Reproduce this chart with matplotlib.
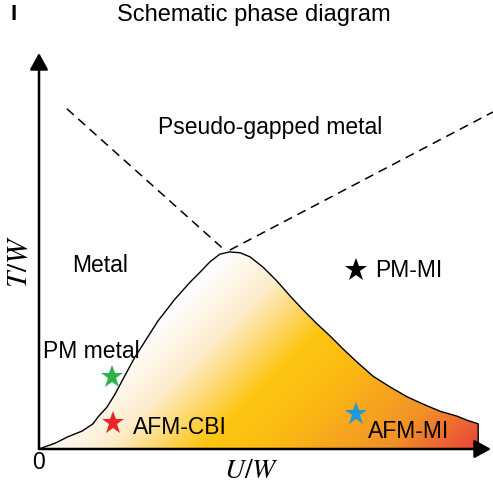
#!/usr/bin/env python3
# -*- coding: utf-8 -*-
import numpy as np
import matplotlib.pyplot as plt
from matplotlib.colors import LinearSegmentedColormap
from matplotlib.patches import Polygon

# =============== DADOS (unidades esquemáticas U/W, T/W) ===============
# contorno da região ordenada (domo)
dome_u = [0.00, 0.36, 0.64, 0.96, 1.20, 1.31, 1.51, 1.69, 1.87, 2.13, 2.36, 2.64,
          3.02, 3.36, 3.58, 3.80, 4.02, 4.24, 4.47, 4.69, 4.98, 5.29, 5.58, 5.87,
          6.18, 6.47, 6.76, 7.07, 7.42, 7.80, 8.18, 8.53, 8.91, 9.29, 9.51, 9.76,
          9.76]
dome_t = [0.00, 0.13, 0.27, 0.40, 0.56, 0.71, 0.93, 1.22, 1.56, 2.04, 2.40, 2.84,
          3.33, 3.71, 3.93, 4.16, 4.33, 4.38, 4.36, 4.27, 4.04, 3.73, 3.40, 3.09,
          2.78, 2.51, 2.22, 1.93, 1.62, 1.38, 1.16, 1.00, 0.84, 0.73, 0.64, 0.56,
          0.00]

# linhas tracejadas (crossover)
dash_left_u = [0.62, 4.07]
dash_left_t = [7.56, 4.47]
dash_right_u = [4.24, 10.09]
dash_right_t = [4.42, 7.49]

# estrelas
star_u = [1.62, 1.64, 7.04, 7.04]
star_t = [1.60, 0.58, 3.98, 0.78]
star_colors = ["#2db34a", "#e8262a", "#000000", "#1e9ad6"]

# rótulos das fases
labels = ["Metal", "PM metal", "AFM-CBI", "PM-MI", "AFM-MI", "Pseudo-gapped metal"]
label_u = [0.73, 0.09, 2.09, 7.47, 7.31, 2.64]
label_t = [4.11, 2.20, 0.51, 3.98, 0.40, 7.16]
# =====================================================================

plt.rcParams["font.family"] = ["Liberation Sans", "DejaVu Sans"]
plt.rcParams["mathtext.fontset"] = "stix"

S = 45.0  # pixels por unidade
fig = plt.figure(figsize=(4.93, 4.89), dpi=100)
ax = fig.add_axes([0, 0, 1, 1])
ax.set_xlim(-39 / S, (493 - 39) / S)
ax.set_ylim((450 - 489) / S, 450 / S)
ax.axis("off")

# preenchimento em gradiente diagonal recortado pelo domo
cmap = LinearSegmentedColormap.from_list(
    "dome", [(0.0, "#ffffff"), (0.17, "#fdeccb"), (0.38, "#fdc512"),
             (0.52, "#fcbc12"), (0.8, "#f29227"), (1.0, "#e8463a")])
gu = np.linspace(0, 10, 400)
gt = np.linspace(0, 5, 200)
GU, GT = np.meshgrid(gu, gt)
s = (39 + S * GU) + (450 - S * GT)
s = np.clip((s - 480) / (925 - 480), 0, 1)
im = ax.imshow(s, extent=[0, 10, 0, 5], origin="lower", cmap=cmap,
               vmin=0, vmax=1, aspect="auto", zorder=1)
poly = Polygon(np.column_stack([dome_u, dome_t]), closed=True,
               facecolor="none", edgecolor="black", lw=1.0, zorder=3)
poly.set_joinstyle("round")
ax.add_patch(poly)
im.set_clip_path(poly)

# tracejadas
ax.plot(dash_left_u, dash_left_t, "k--", lw=1.1, dashes=(6, 4), zorder=2)
ax.plot(dash_right_u, dash_right_t, "k--", lw=1.1, dashes=(6, 4), zorder=2)

# eixos com setas
arr = dict(arrowstyle="-|>,head_length=10,head_width=5.5", color="black",
           lw=1.8, mutation_scale=1, shrinkA=0, shrinkB=0)
ax.annotate("", xy=(0, (450 - 54) / S), xytext=(0, 0), arrowprops=arr, zorder=4)
ax.annotate("", xy=((491 - 39) / S, 0), xytext=(0, 0), arrowprops=arr, zorder=4)

# estrelas
for u, t, c in zip(star_u, star_t, star_colors):
    ax.plot(u, t, marker="*", color=c, markersize=17, markeredgewidth=0, zorder=5)

for lab, u, t in zip(labels, label_u, label_t):
    ax.text(u, t, lab, fontsize=16.5, ha="left", va="center", zorder=6)

ax.text(-0.02, -0.27, "0", fontsize=16.5, ha="center", va="center")
ax.text(4.71, -0.47, "$U/W$", fontsize=20, ha="center", va="center")
ax.text(-0.45, 4.18, "$T/W$", fontsize=21, ha="center", va="center", rotation=90)

fig.text(254 / 493, 1 - 15 / 489, "Schematic phase diagram", fontsize=17,
         ha="center", va="center")
fig.text(10 / 493, 1 - 15 / 489, "I", fontsize=16, fontweight="bold",
         ha="left", va="center")

fig.savefig("out.png", dpi=100)
